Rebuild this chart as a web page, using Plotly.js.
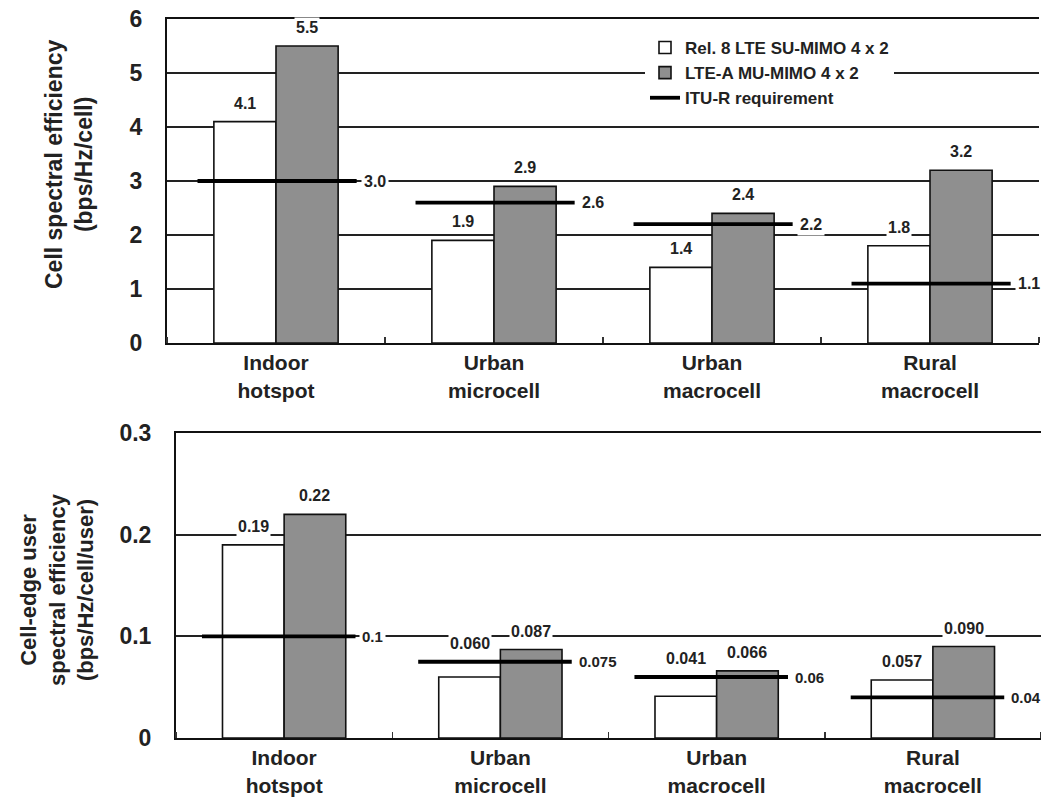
<!DOCTYPE html>
<html>
<head>
<meta charset="utf-8">
<script src="https://cdn.plot.ly/plotly-3.0.1.min.js"></script>
<style>
html,body{margin:0;padding:0;overflow:hidden;background:#fff;}
#chart{width:1041px;height:797px;}
</style>
</head>
<body>
<div id="chart"></div>
<script>
// ---- data ----
const categories = ["Indoor<br>hotspot", "Urban<br>microcell", "Urban<br>macrocell", "Rural<br>macrocell"];
const seriesNames = ["Rel. 8 LTE SU-MIMO 4 x 2", "LTE-A MU-MIMO 4 x 2", "ITU-R requirement"];

const cellSU = [4.1, 1.9, 1.4, 1.8];
const cellMU = [5.5, 2.9, 2.4, 3.2];
const cellITU = [3.0, 2.6, 2.2, 1.1];
const cellSULabels = ["4.1", "1.9", "1.4", "1.8"];
const cellMULabels = ["5.5", "2.9", "2.4", "3.2"];
const cellITULabels = ["3.0", "2.6", "2.2", "1.1"];

const edgeSU = [0.19, 0.060, 0.041, 0.057];
const edgeMU = [0.22, 0.087, 0.066, 0.090];
const edgeITU = [0.1, 0.075, 0.06, 0.04];
const edgeSULabels = ["0.19", "0.060", "0.041", "0.057"];
const edgeMULabels = ["0.22", "0.087", "0.066", "0.090"];
const edgeITULabels = ["0.1", "0.075", "0.06", "0.04"];

const cellTicks = [0, 1, 2, 3, 4, 5, 6];
const cellTickText = ["0", "1", "2", "3", "4", "5", "6"];
const edgeTicks = [0, 0.1, 0.2, 0.3];
const edgeTickText = ["0", "0.1", "0.2", "0.3"];

// ---- style ----
const FONT = "Liberation Sans, Arial, Helvetica, sans-serif";
const W = 1041, H = 797;
const GRAY = "#8f8f8f";
const BARW = 0.285;
const idx = categories.map((_, i) => i);

function ituSegments(vals, l, r) {
  const xs = [], ys = [];
  vals.forEach((v, i) => { xs.push(i - l, i + r, null); ys.push(v, v, null); });
  return {xs, ys};
}

const traces = [];
function addPanel(su, mu, itu, xa, ya, showLegend, l, r) {
  traces.push({
    type: "bar", x: idx, y: su, name: seriesNames[0], xaxis: xa, yaxis: ya,
    marker: {color: "#ffffff", line: {color: "#111", width: 1.6}},
    showlegend: showLegend, legendrank: 1, hoverinfo: "skip"
  });
  traces.push({
    type: "bar", x: idx, y: mu, name: seriesNames[1], xaxis: xa, yaxis: ya,
    marker: {color: GRAY, line: {color: "#111", width: 1.6}},
    showlegend: showLegend, legendrank: 2, hoverinfo: "skip"
  });
  const seg = ituSegments(itu, l, r);
  traces.push({
    type: "scatter", mode: "lines", x: seg.xs, y: seg.ys, name: seriesNames[2],
    xaxis: xa, yaxis: ya, line: {color: "#000", width: 3.8},
    showlegend: showLegend, legendrank: 3, hoverinfo: "skip", connectgaps: false
  });
}
addPanel(cellSU, cellMU, cellITU, "x", "y", true, 0.36, 0.37);
addPanel(edgeSU, edgeMU, edgeITU, "x2", "y2", false, 0.38, 0.33);

const annotations = [];
function addLabels(su, mu, itu, suL, muL, ituL, xa, ya, raiseAboveItu, r, ituSize) {
  const off = BARW / 2;
  const vf = {family: FONT, size: 16, color: "#222", weight: "bold"};
  idx.forEach(i => {
    const ySU = raiseAboveItu ? Math.max(su[i], itu[i]) : su[i];
    annotations.push({xref: xa, yref: ya, x: i - off, y: ySU, text: suL[i], showarrow: false,
      yanchor: "bottom", yshift: 8, bgcolor: "#fff", borderpad: 1, font: vf});
    annotations.push({xref: xa, yref: ya, x: i + off, y: mu[i], text: muL[i], showarrow: false,
      yanchor: "bottom", yshift: 8, bgcolor: "#fff", borderpad: 1, font: vf});
    annotations.push({xref: xa, yref: ya, x: i + r, y: itu[i], text: ituL[i], showarrow: false,
      xanchor: "left", yanchor: "middle", xshift: 4, bgcolor: "#fff", borderpad: 2,
      font: {family: FONT, size: ituSize, color: "#222", weight: "bold"}});
  });
}
addLabels(cellSU, cellMU, cellITU, cellSULabels, cellMULabels, cellITULabels, "x", "y", false, 0.37, 16);
addLabels(edgeSU, edgeMU, edgeITU, edgeSULabels, edgeMULabels, edgeITULabels, "x2", "y2", true, 0.33, 15);

// y-axis titles as rotated text
annotations.push({xref: "paper", yref: "paper", x: 69 / W, y: 1 - 165 / H, textangle: -90,
  text: "<b>Cell spectral efficiency<br>(bps/Hz/cell)</b>", showarrow: false,
  xanchor: "center", yanchor: "middle", font: {family: FONT, size: 23, color: "#222"}});
annotations.push({xref: "paper", yref: "paper", x: 57 / W, y: 1 - 590 / H, textangle: -90,
  text: "<b>Cell-edge user<br>spectral efficiency<br>(bps/Hz/cell/user)</b>", showarrow: false,
  xanchor: "center", yanchor: "middle", font: {family: FONT, size: 22, color: "#222"}});

function xAxis(domain) {
  return {
    domain: domain, range: [-0.5, 3.5], tickmode: "array", tickvals: idx, ticktext: categories,
    ticks: "", showgrid: false, zeroline: false, showline: true, mirror: true,
    linecolor: "#111", linewidth: 2, fixedrange: true,
    tickfont: {family: FONT, size: 21, color: "#222", weight: "bold"},
    minor: {tick0: 0.5, dtick: 1, ticks: "inside", ticklen: 6, tickcolor: "#333", tickwidth: 1.5, showgrid: false}
  };
}
function yAxis(domain, range, tv, tt) {
  return {
    domain: domain, range: range, tickmode: "array", tickvals: tv, ticktext: tt,
    showgrid: true, gridcolor: "#222", gridwidth: 1.8, zeroline: false,
    showline: true, linecolor: "#111", linewidth: 2, ticks: "", ticklabelstandoff: 18,
    tickfont: {family: FONT, size: 23, color: "#222", weight: "bold"}, fixedrange: true
  };
}

const layout = {
  width: W, height: H,
  margin: {l: 0, r: 0, t: 0, b: 0},
  paper_bgcolor: "#fff", plot_bgcolor: "#fff",
  barmode: "group", bargap: 1 - 2 * BARW, bargroupgap: 0,
  xaxis: xAxis([167 / W, 1039 / W]),
  yaxis: yAxis([1 - 343 / H, 1 - 19 / H], [0, 6], cellTicks, cellTickText),
  xaxis2: Object.assign(xAxis([176 / W, 1]), {anchor: "y2"}),
  yaxis2: Object.assign(yAxis([1 - 738 / H, 1 - 433 / H], [0, 0.3], edgeTicks, edgeTickText), {anchor: "x2"}),
  showlegend: true,
  legend: {x: 645 / W, y: 1 - 30 / H, xanchor: "left", yanchor: "top", bgcolor: "#fff",
    borderwidth: 0, traceorder: "normal", tracegroupgap: 0,
    font: {family: FONT, size: 17, color: "#222", weight: "bold"}},
  annotations: annotations
};
layout.yaxis.anchor = "x";
layout.xaxis.anchor = "y";

Plotly.newPlot("chart", traces, layout, {displayModeBar: false, staticPlot: true});
</script>
</body>
</html>
